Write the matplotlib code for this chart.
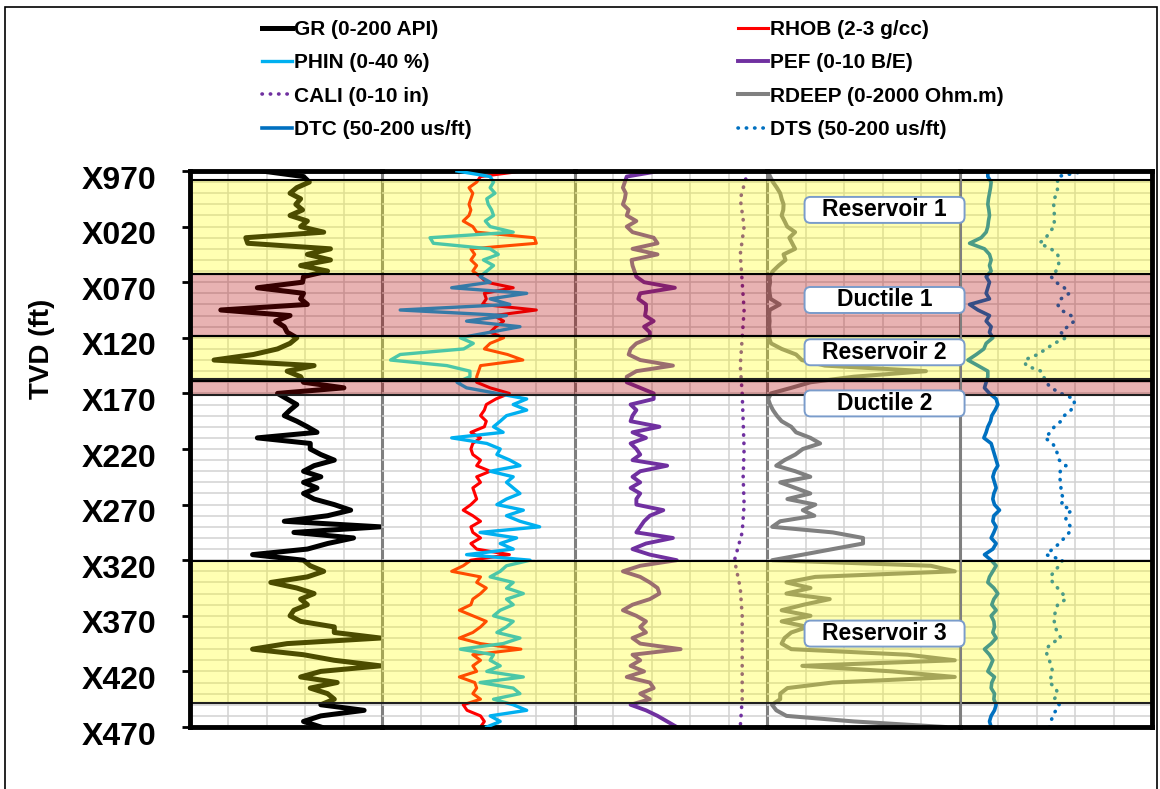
import numpy as np
import matplotlib.pyplot as plt
import matplotlib.transforms as mtransforms
from matplotlib.patches import FancyBboxPatch, Rectangle

plt.rcParams['font.family'] = ['Liberation Sans', 'DejaVu Sans']

# -------------------------- Log data (TVD in ft below X000) --------------------------

depth = np.arange(970, 1471, 5)

gr = [75, 118, 124, 111, 104, 115, 110, 117, 104, 122,      # 970-1015
      115, 139, 58, 60, 146, 122, 146, 115, 143, 118,       # 1020-1065
      117, 70, 118, 115, 122, 32, 104, 89, 98, 101,         # 1070-1115
      111, 104, 91, 66, 25, 129, 101, 115, 118, 160,        # 1120-1165
      91, 101, 111, 104, 98, 111, 122, 132, 70, 125,        # 1170-1215
      125, 136, 150, 129, 118, 136, 118, 132, 118, 129,     # 1220-1265
      150, 167, 143, 98, 198, 108, 170, 143, 122, 65,       # 1270-1315
      118, 125, 139, 122, 84, 111, 129, 115, 122, 108,      # 1320-1365
      104, 115, 150, 150, 198, 101, 65, 118, 150, 198,      # 1370-1415
      136, 115, 153, 125, 143, 150, 136, 181, 136, 118,     # 1420-1465
      136]                                                  # 1470

rhob = [2.73, 2.51, 2.49, 2.45, 2.47, 2.46, 2.45, 2.46, 2.45, 2.42,
        2.47, 2.49, 2.79, 2.80, 2.46, 2.48, 2.46, 2.49, 2.47, 2.51,
        2.54, 2.68, 2.53, 2.54, 2.52, 2.80, 2.58, 2.63, 2.59, 2.56,
        2.63, 2.56, 2.53, 2.65, 2.73, 2.51, 2.50, 2.49, 2.49, 2.56,
        2.66, 2.59, 2.54, 2.53, 2.51, 2.54, 2.53, 2.46, 2.51, 2.47,
        2.46, 2.47, 2.51, 2.49, 2.56, 2.49, 2.51, 2.47, 2.48, 2.49,
        2.46, 2.42, 2.47, 2.51, 2.46, 2.47, 2.51, 2.46, 2.49, 2.66,
        2.46, 2.42, 2.36, 2.51, 2.49, 2.54, 2.51, 2.47, 2.46, 2.40,
        2.47, 2.54, 2.51, 2.47, 2.40, 2.51, 2.72, 2.47, 2.51, 2.47,
        2.49, 2.40, 2.48, 2.49, 2.47, 2.51, 2.42, 2.44, 2.51, 2.53,
        2.51]

phin = [15.5, 22.4, 23.1, 22.4, 23.4, 21.7, 22.0, 22.7, 23.1, 21.4,
        22.4, 27.2, 9.9, 10.6, 22.4, 24.1, 21.0, 23.1, 21.7, 20.3,
        22.4, 14.4, 30.0, 22.4, 26.5, 3.7, 25.8, 17.5, 28.6, 22.4,
        16.2, 18.9, 16.9, 3.7, 1.7, 13.4, 18.2, 18.2, 15.5, 17.5,
        23.8, 30.0, 27.2, 30.0, 25.8, 24.5, 23.1, 25.1, 14.4, 21.7,
        24.5, 23.8, 26.5, 28.6, 22.4, 27.2, 25.8, 27.2, 28.6, 25.8,
        23.8, 29.3, 25.8, 28.6, 32.7, 20.3, 27.9, 24.5, 27.2, 17.5,
        30.7, 25.8, 24.5, 22.4, 27.2, 25.8, 29.3, 25.8, 27.2, 24.5,
        23.1, 27.2, 25.8, 23.8, 28.6, 25.1, 16.2, 23.1, 22.4, 24.5,
        21.7, 29.3, 20.3, 27.2, 28.6, 23.1, 27.2, 30.0, 22.4, 24.5,
        21.7]

pef = [4.4, 2.7, 2.6, 2.5, 2.65, 2.6, 2.5, 2.8, 2.7, 3.2,
       2.7, 3.0, 4.1, 4.3, 3.0, 4.3, 2.95, 3.0, 3.1, 3.2,
       3.6, 5.2, 3.4, 3.3, 3.7, 3.7, 3.65, 4.1, 3.6, 3.9,
       3.9, 3.2, 2.9, 2.8, 3.4, 5.1, 3.2, 2.7, 2.7, 3.4,
       4.1, 4.1, 2.9, 3.2, 3.0, 2.9, 4.4, 3.0, 3.7, 2.9,
       3.2, 3.4, 3.0, 4.8, 3.4, 3.0, 3.4, 2.9, 3.4, 3.2,
       3.2, 4.6, 3.9, 3.6, 3.4, 3.2, 5.1, 3.7, 3.0, 3.9,
       5.3, 3.4, 2.5, 3.4, 3.9, 4.3, 4.4, 3.9, 3.0, 2.5,
       3.2, 3.7, 3.4, 3.7, 3.0, 3.4, 5.5, 3.0, 3.4, 2.9,
       3.6, 2.7, 3.9, 4.1, 3.4, 3.9, 2.9, 3.7, 4.3, 4.8,
       5.3]

cali_depth = np.arange(970, 1471, 25)
cali = [9.0, 8.6, 8.8, 8.6, 8.7, 8.8, 8.7, 8.6, 8.7, 8.75, 8.8,
        8.75, 8.8, 8.7, 8.3, 8.6, 8.7, 8.7, 8.7, 8.7, 8.6]

rdeep = [5, 30, 60, 100, 135, 150, 170, 167, 150, 180,
         208, 290, 230, 260, 290, 170, 190, 120, 60, 25,
         30, 20, 25, 35, 130, 25, 20, 25, 20, 30,
         20, 40, 150, 300, 360, 600, 1650, 900, 450, 250,
         40, 10, 30, 60, 100, 150, 250, 300, 450, 550,
         370, 292, 180, 94, 292, 448, 135, 292, 448, 210,
         500, 370, 490, 135, 52, 682, 996, 996, 682, 370,
         52, 1700, 1950, 500, 200, 450, 200, 650, 380, 150,
         450, 150, 420, 250, 180, 150, 250, 1460, 1950, 365,
         1300, 1950, 680, 210, 135, 135, 50, 95, 200, 900,
         1850]

dtc = [72.0, 72.0, 74.6, 74.1, 73.3, 72.5, 72.0, 72.8, 73.3, 72.5,
       72.0, 70.7, 66.8, 57.8, 69.4, 73.3, 74.6, 73.3, 74.6, 70.7,
       73.3, 72.0, 70.7, 73.3, 57.8, 64.3, 73.3, 70.7, 74.6, 73.3,
       75.9, 70.7, 68.9, 63.0, 56.5, 64.3, 72.0, 72.0, 70.7, 69.4,
       73.3, 78.5, 79.8, 77.7, 75.1, 74.1, 72.0, 70.7, 68.9, 74.6,
       75.9, 77.2, 78.5, 79.8, 77.2, 75.9, 77.2, 78.5, 76.7, 75.9,
       77.2, 81.1, 76.7, 75.9, 78.5, 76.7, 74.6, 78.5, 75.9, 69.4,
       74.6, 78.5, 75.9, 73.3, 72.0, 76.7, 79.8, 76.7, 75.1, 78.5,
       74.6, 76.7, 77.2, 75.9, 78.5, 74.6, 69.4, 73.3, 75.9, 74.1,
       72.0, 77.2, 75.1, 74.6, 77.2, 76.7, 78.5, 77.2, 74.6, 73.3,
       74.6]

dts = [148.5, 126.4, 126.4, 126.4, 125.9, 123.8, 123.3, 123.8, 123.8, 123.8,
       123.8, 120.0, 117.4, 112.2, 121.3, 126.4, 127.7, 127.0, 125.1, 121.3,
       125.1, 131.6, 135.5, 129.0, 126.4, 129.0, 136.8, 139.4, 134.2, 129.0,
       132.9, 123.8, 117.4, 110.9, 100.5, 101.8, 113.5, 115.6, 117.4, 121.3,
       129.0, 139.4, 139.4, 136.8, 131.6, 129.0, 123.8, 120.7, 116.6, 122.5,
       125.1, 126.4, 127.7, 132.9, 128.5, 127.7, 129.0, 129.0, 129.0, 131.6,
       129.0, 137.3, 132.9, 132.9, 136.8, 135.5, 131.6, 127.7, 122.5, 117.4,
       130.3, 127.7, 123.8, 120.7, 122.5, 126.4, 130.3, 132.9, 126.4, 125.1,
       123.8, 123.8, 124.4, 126.4, 129.0, 121.3, 117.4, 118.1, 120.0, 121.3,
       122.5, 121.3, 120.0, 125.1, 126.4, 123.8, 127.7, 125.1, 122.5, 121.3,
       120.0]

# Zones
zone_names = ['Reservoir 1', 'Ductile 1', 'Reservoir 2', 'Ductile 2', 'Reservoir 3']
zone_top = [978, 1063, 1118, 1159, 1321]
zone_base = [1063, 1118, 1157, 1171, 1448]
zone_colors = ['#FFFF00', '#B40000', '#FFFF00', '#B40000', '#FFFF00']
label_depth = [1005, 1086, 1133, 1179, 1386]

depth_ticks = np.arange(970, 1471, 50)
depth_labels = ['X970', 'X020', 'X070', 'X120', 'X170', 'X220',
                'X270', 'X320', 'X370', 'X420', 'X470']

track_limits = [(0, 200), (2, 3), (0, 10), (0, 2000), (50, 200)]
phin_limits = (0, 40)

# -------------------------- Figure / tracks --------------------------

W, H = 1160, 789
fig = plt.figure(figsize=(W / 100, H / 100), dpi=100)
px0, px1, py0, py1 = 190, 1152, 171, 727
tw = (px1 - px0) / 5

axes = []
for i, lim in enumerate(track_limits):
    ax = fig.add_axes([(px0 + i * tw) / W, 1 - py1 / H, tw / W, (py1 - py0) / H])
    ax.set_facecolor('none')
    ax.set_xlim(lim)
    ax.set_ylim(1470, 970)
    ax.set_xticks([])
    ax.set_xticks(np.linspace(lim[0], lim[1], 6)[1:-1], minor=True)
    ax.set_yticks(depth_ticks)
    ax.set_yticks(np.arange(970, 1471, 10), minor=True)
    ax.grid(which='both', color='#d2d2d2', lw=1.1)
    ax.set_axisbelow(True)
    ax.tick_params(axis='x', which='both', length=0, labelbottom=False)
    ax.tick_params(axis='y', which='minor', length=0)
    for s in ['top', 'bottom']:
        ax.spines[s].set(color='black', lw=3.5, zorder=5)
    if i == 0:
        ax.spines['left'].set(color='black', lw=3.5, zorder=5)
    else:
        ax.spines['left'].set_visible(False)
        ax.tick_params(axis='y', which='both', length=0, labelleft=False)
    if i == 4:
        ax.spines['right'].set(color='black', lw=3.5, zorder=5)
    else:
        ax.spines['right'].set(color='#7f7f7f', lw=2.2, zorder=2.5)
    axes.append(ax)

ax_phin = axes[1].twiny()
ax_phin.set_xlim(phin_limits)
ax_phin.set_ylim(1470, 970)
ax_phin.set_xticks([])
ax_phin.tick_params(axis='both', which='both', length=0, labeltop=False)
for s in ax_phin.spines.values():
    s.set_visible(False)

# -------------------------- Curves --------------------------

dots = (0, (0.1, 2.2))
l_gr, = axes[0].plot(gr, depth, color='black', lw=3.6, zorder=2)
l_rhob, = axes[1].plot(rhob, depth, color='#FF0000', lw=2.2, zorder=2)
l_phin, = ax_phin.plot(phin, depth, color='#00B0F0', lw=2.4, zorder=2)
l_pef, = axes[2].plot(pef, depth, color='#7030A0', lw=2.8, zorder=2)
l_cali, = axes[2].plot(cali, cali_depth, color='#7030A0', lw=2.6, ls=dots,
                       dash_capstyle='round', zorder=2)
l_rdeep, = axes[3].plot(rdeep, depth, color='#808080', lw=2.9, zorder=2)
l_dtc, = axes[4].plot(dtc, depth, color='#0070C0', lw=2.6, zorder=2)
l_dts, = axes[4].plot(dts, depth, color='#0070C0', lw=2.6, ls=dots,
                      dash_capstyle='round', zorder=2)

# Zone shading on top of the curves
for tgt in [axes[0], ax_phin, axes[2], axes[3], axes[4]]:
    for top, base, c in zip(zone_top, zone_base, zone_colors):
        tgt.axhspan(top, base, color=c, alpha=0.3, lw=0, zorder=3)
        tgt.axhline(top, color='black', lw=1.5, zorder=4)
        tgt.axhline(base, color='#202020', lw=1.5, zorder=4)

# Zone labels
label_x = 0.61
axes[3].set_zorder(2)
blend = mtransforms.blended_transform_factory(axes[3].transAxes, axes[3].transData)
for name, d in zip(zone_names, label_depth):
    off = fig.dpi_scale_trans + mtransforms.ScaledTranslation(label_x, d, blend)
    box = FancyBboxPatch((-0.8, -0.13), 1.6, 0.26,
                         boxstyle='round,pad=0,rounding_size=0.06',
                         transform=off, fc='white', ec='#7A9CCB', lw=1.4,
                         zorder=6, clip_on=False)
    axes[3].add_artist(box)
    axes[3].text(label_x, d, name, transform=blend, ha='center', va='center',
                 fontsize=16.5, fontweight='bold', zorder=7, clip_on=False)

# Depth axis
axes[0].set_yticklabels(depth_labels, fontsize=23, fontweight='bold')
axes[0].tick_params(axis='y', which='major', direction='out', length=6, width=2, pad=18)
for lab in axes[0].get_yticklabels():
    lab.set_transform(lab.get_transform()
                      + mtransforms.ScaledTranslation(0, -0.06, fig.dpi_scale_trans))
axes[0].set_ylabel('TVD (ft)', fontsize=20, fontweight='bold')
axes[0].yaxis.set_label_coords(-0.70, 0.68)

# Legend (two columns)
prop = {'size': 15, 'weight': 'bold'}
kw = dict(loc='upper left', frameon=False, prop=prop, handlelength=1.45,
          handletextpad=0.1, labelspacing=0.69, borderpad=0, borderaxespad=0)
fig.legend([l_gr, l_phin, l_cali, l_dtc],
           ['GR (0-200 API)', 'PHIN (0-40 %)', 'CALI (0-10 in)', 'DTC (50-200 us/ft)'],
           bbox_to_anchor=(262 / W, 1 - 20 / H), **kw)
fig.legend([l_rhob, l_pef, l_rdeep, l_dts],
           ['RHOB (2-3 g/cc)', 'PEF (0-10 B/E)', 'RDEEP (0-2000 Ohm.m)', 'DTS (50-200 us/ft)'],
           bbox_to_anchor=(738 / W, 1 - 20 / H), **kw)

# Outer border of the picture
fig.add_artist(Rectangle((5 / W, -0.01), 1152 / W, (H - 7) / H + 0.01,
                         transform=fig.transFigure, fill=False, ec='black', lw=1.2))

fig.savefig('out.png', dpi=100, facecolor='white')
